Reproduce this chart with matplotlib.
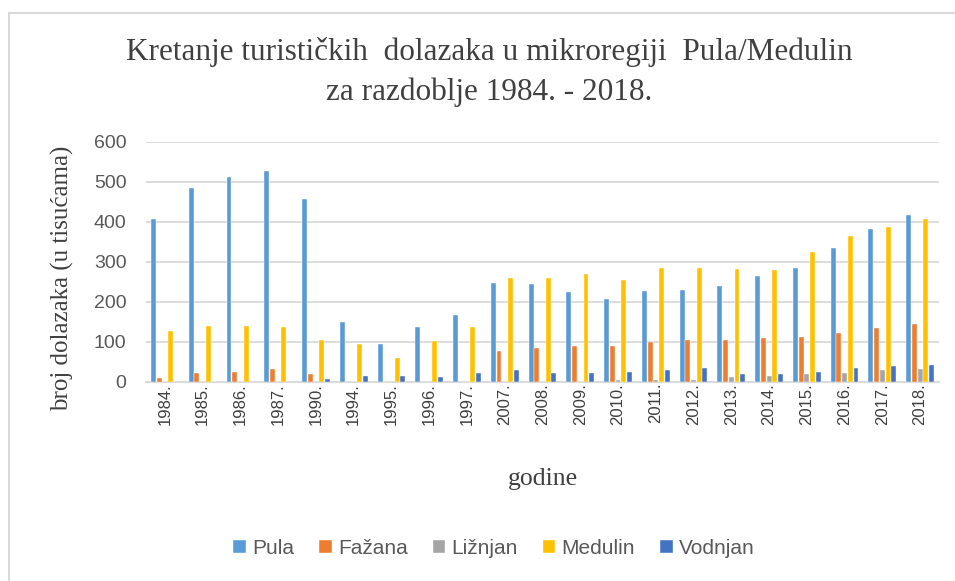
import matplotlib

matplotlib.use("Agg")
import matplotlib.pyplot as plt
import numpy as np
from matplotlib.lines import Line2D

# tourist arrivals, thousands
years = ["1984.", "1985.", "1986.", "1987.", "1990.", "1994.", "1995.", "1996.",
         "1997.", "2007.", "2008.", "2009.", "2010.", "2011.", "2012.", "2013.",
         "2014.", "2015.", "2016.", "2017.", "2018."]
pula = [406, 483, 511, 527, 457, 149, 95, 137, 166, 246, 243, 224, 207, 226,
        229, 239, 265, 284, 333, 381, 416]
fazana = [8, 21, 24, 32, 18, 0, 0, 0, 0, 77, 83, 89, 89, 99, 105, 105, 108,
          112, 121, 134, 143]
liznjan = [0, 0, 0, 0, 0, 0, 0, 0, 0, 0, 0, 0, 5, 5, 5, 12, 15, 18, 22, 28, 31]
medulin = [127, 140, 140, 137, 105, 95, 59, 101, 137, 258, 258, 268, 255, 284,
           284, 281, 278, 323, 364, 387, 406]
vodnjan = [0, 0, 0, 0, 6, 15, 15, 12, 21, 28, 21, 21, 24, 28, 34, 18, 18, 24,
           34, 38, 41]

series = [
    ("Pula", pula, "#5B9BD5"),
    ("Fažana", fazana, "#ED7D31"),
    ("Ližnjan", liznjan, "#A5A5A5"),
    ("Medulin", medulin, "#FFC000"),
    ("Vodnjan", vodnjan, "#4472C4"),
]

W, H = 955, 581
fig = plt.figure(figsize=(W / 100, H / 100), dpi=100)
ax = fig.add_axes([146 / W, 1 - 381.7 / H, (939 - 146) / W, 240 / H])

x = np.arange(len(years))
slot = 0.151
for i, (name, vals, color) in enumerate(series):
    ax.bar(x + (i - 2) * slot, vals, width=0.13, color=color, label=name,
           edgecolor="white", linewidth=0.3, zorder=3)

ax.set_xlim(-0.5, len(years) - 0.5)
ax.set_ylim(0, 600)
ax.set_yticks(range(0, 601, 100))
ax.grid(axis="y", color="#D9D9D9", linewidth=1.3, zorder=0)
for s in ("left", "right", "top"):
    ax.spines[s].set_visible(False)
ax.spines["bottom"].set_color("#D9D9D9")
ax.spines["bottom"].set_linewidth(1.3)
ax.tick_params(axis="both", length=0, colors="#595959")
ax.tick_params(axis="y", pad=14, labelsize=14)
ax.tick_params(axis="x", pad=1, labelsize=12)
ax.set_xticks(x)
ax.set_xticklabels(years, rotation=90, fontfamily="Liberation Sans",
                   color="#404040")
for lab in ax.get_yticklabels():
    lab.set_fontfamily("Liberation Sans")
    lab.set_color("#595959")

serif = "Liberation Serif"
fig.text(489 / W, 1 - 52 / H, "Kretanje turističkih  dolazaka u mikroregiji  Pula/Medulin",
         ha="center", va="center", fontsize=22.5, family=serif, color="#404040")
fig.text(489 / W, 1 - 92 / H, "za razdoblje 1984. - 2018.",
         ha="center", va="center", fontsize=22.5, family=serif, color="#404040")
fig.text(62 / W, 1 - 278 / H, "broj dolazaka (u tisućama)", rotation=90,
         ha="center", va="center", fontsize=18, family=serif, color="#404040")
fig.text(543 / W, 1 - 479 / H, "godine", ha="center", va="center",
         fontsize=18.5, family=serif, color="#404040")

leg = fig.legend(loc="center", bbox_to_anchor=(494 / W, 1 - 548 / H), ncol=5,
                 frameon=False, handlelength=0.6, handleheight=0.6,
                 handletextpad=0.3, columnspacing=1.2,
                 prop={"family": "Liberation Sans", "size": 15})
for t in leg.get_texts():
    t.set_color("#595959")

# chart frame, top and left edges visible
fig.add_artist(Line2D([9 / W, 9 / W], [0, 1 - 13 / H], color="#D9D9D9",
                      linewidth=1.5, transform=fig.transFigure))
fig.add_artist(Line2D([9 / W, 1], [1 - 13 / H, 1 - 13 / H], color="#D9D9D9",
                      linewidth=1.5, transform=fig.transFigure))

fig.savefig("out.png", dpi=100, facecolor="white")
